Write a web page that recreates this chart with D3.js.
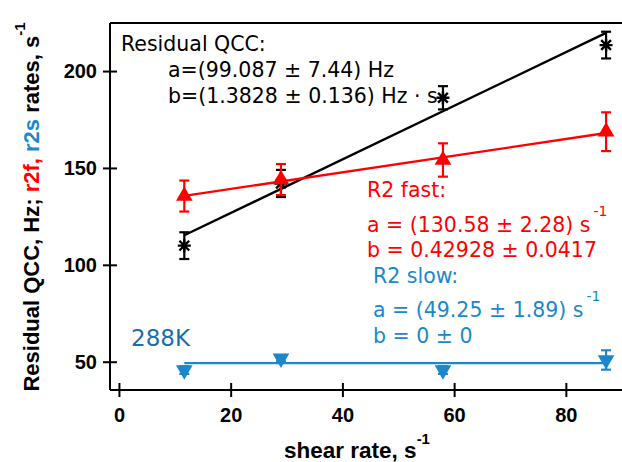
<!DOCTYPE html>
<html><head><meta charset="utf-8">
<script src="https://cdn.jsdelivr.net/npm/d3@7"></script>
<style>
body{margin:0;background:#fff;}
svg{display:block;}
.tick text{font-family:Arial,"Liberation Sans",sans-serif;font-weight:bold;font-size:20px;fill:#000;}
.ann{font-family:"DejaVu Sans",sans-serif;font-size:20.5px;}
</style>
</head><body>
<svg id="chart" width="622" height="462"></svg>
<script>
const shearRates = [11.7, 29.0, 58.0, 87.2];
const qcc = [109.9, 142.0, 186.2, 213.4];
const qccErr = [6.9, 7.0, 6.0, 6.9];
const r2f = [135.5, 144.0, 154.1, 168.7];
const r2fErr = [8.0, 8.0, 8.6, 10.0];
const r2s = [45.7, 51.7, 45.7, 50.9];
const r2sErr = [2.0, 1.5, 2.0, 5.0];
const qccFit = [99.087, 1.3828];
const r2fFit = [130.58, 0.42928];
const r2sFit = [49.25, 0];
const xTicks = [0, 20, 40, 60, 80];
const yTicks = [50, 100, 150, 200];

const BLACK = "#000", RED = "#ff0000", BLUE = "#1b88cc";
const svg = d3.select("#chart");
const L = 110, R = 622, T = 23, B = 390;
const x = d3.scaleLinear().domain([-1.6, 90.05]).range([L, R]);
const y = d3.scaleLinear().domain([35.4, 224.8]).range([B, T]);

// frame
svg.append("line").attr("x1", L).attr("x2", R).attr("y1", T).attr("y2", T).attr("stroke", "#000").attr("stroke-width", 2);

const xAxis = svg.append("g").attr("transform", `translate(0,${B})`)
  .call(d3.axisBottom(x).tickValues(xTicks).tickSize(7).tickPadding(11).tickFormat(d3.format("d")));
xAxis.selectAll(".tick line").attr("y1", -7).attr("stroke-width", 2);
xAxis.select(".domain").attr("d", `M${L},0H${R}`).attr("stroke-width", 2);

const yAxis = svg.append("g").attr("transform", `translate(${L},0)`)
  .call(d3.axisLeft(y).tickValues(yTicks).tickSize(7).tickPadding(6).tickFormat(d3.format("d")));
yAxis.selectAll(".tick line").attr("x1", 7).attr("stroke-width", 2);
yAxis.select(".domain").attr("d", `M0,${T}V${B}`).attr("stroke-width", 2);

function series(vals, errs, fit, color, sym) {
  const g = svg.append("g");
  const x0 = shearRates[0], x1 = shearRates[shearRates.length - 1];
  g.append("line").attr("x1", x(x0)).attr("x2", x(x1))
    .attr("y1", y(fit[0] + fit[1] * x0)).attr("y2", y(fit[0] + fit[1] * x1))
    .attr("stroke", color).attr("stroke-width", 2.4);
  shearRates.forEach((sx, i) => {
    const cx = x(sx), top = y(vals[i] + errs[i]), bot = y(vals[i] - errs[i]);
    g.append("line").attr("x1", cx).attr("x2", cx).attr("y1", top).attr("y2", bot).attr("stroke", color).attr("stroke-width", 2.2);
    [top, bot].forEach(yy => g.append("line").attr("x1", cx - 5).attr("x2", cx + 5).attr("y1", yy).attr("y2", yy).attr("stroke", color).attr("stroke-width", 2.2));
    const cy = y(vals[i]);
    if (sym === "star") {
      const s = 6.5;
      g.append("path").attr("d", `M${-s},0H${s}M0,${-s}V${s}M${-s*0.75},${-s*0.75}L${s*0.75},${s*0.75}M${-s*0.75},${s*0.75}L${s*0.75},${-s*0.75}`)
        .attr("transform", `translate(${cx},${cy})`).attr("stroke", color).attr("stroke-width", 2.4);
    } else {
      const rot = sym === "down" ? 180 : 0;
      g.append("path").attr("d", d3.symbol(d3.symbolTriangle, 120)())
        .attr("transform", `translate(${cx},${cy}) rotate(${rot})`).attr("fill", color);
    }
  });
}
series(qcc, qccErr, qccFit, BLACK, "star");
series(r2f, r2fErr, r2fFit, RED, "up");
series(r2s, r2sErr, r2sFit, BLUE, "down");

// annotations
function ann(tx, ty, text, color, sup, fs) {
  const t = svg.append("text").attr("class", "ann").attr("x", tx).attr("y", ty).attr("fill", color).text(text);
  if (fs) t.attr("font-size", fs).style("font-size", fs + "px");
  if (sup) t.append("tspan").attr("dx", 3).attr("dy", -16).style("font-size", "14px").text(sup);
}
ann(121, 51, "Residual QCC:", BLACK);
ann(168, 77, "a=(99.087 \u00b1 7.44) Hz", BLACK);
ann(168, 103, "b=(1.3828 \u00b1 0.136) Hz \u00b7 s", BLACK);
ann(367, 197, "R2 fast:", RED);
ann(367, 232, "a = (130.58 \u00b1 2.28) s", RED, "-1");
ann(367, 257, "b = 0.42928 \u00b1 0.0417", RED);
ann(373, 283, "R2 slow:", BLUE);
ann(373, 317, "a = (49.25 \u00b1 1.89) s", BLUE, "-1");
ann(373, 343, "b = 0 \u00b1 0", BLUE);
ann(131, 346, "288K", "#1a6fa8", null, 23);

// axis titles
const xt = svg.append("text").attr("x", 357).attr("y", 458).attr("text-anchor", "middle")
  .attr("font-family", "Arial,'Liberation Sans',sans-serif").attr("font-weight", "bold").attr("font-size", 22.5);
xt.append("tspan").text("shear rate, s");
xt.append("tspan").attr("dy", -14).attr("font-size", 15).text("-1");

const yt = svg.append("text").attr("transform", "translate(39,207) rotate(-90)").attr("text-anchor", "middle")
  .attr("font-family", "Arial,'Liberation Sans',sans-serif").attr("font-weight", "bold").attr("font-size", 22);
yt.append("tspan").attr("fill", BLACK).text("Residual QCC, Hz; ");
yt.append("tspan").attr("fill", RED).text("r2f, ");
yt.append("tspan").attr("fill", BLUE).text("r2s ");
yt.append("tspan").attr("fill", BLACK).text("rates, s");
yt.append("tspan").attr("fill", BLACK).attr("dy", -14).attr("font-size", 15).text("-1");
</script>
</body></html>
